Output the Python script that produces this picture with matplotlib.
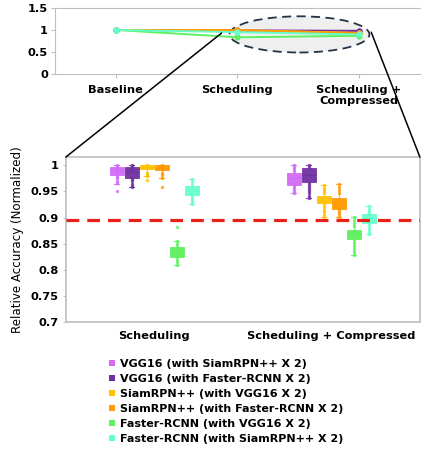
import numpy as np
import matplotlib
matplotlib.use("Agg")
import matplotlib.pyplot as plt
from matplotlib.patches import Ellipse, Patch, ConnectionPatch

plt.rcParams['font.family'] = ['DejaVu Sans']
plt.rcParams['font.weight'] = 'bold'
plt.rcParams['font.size'] = 8.2

# ---- data ----
series = [
    "VGG16 (with SiamRPN++ X 2)",
    "VGG16 (with Faster-RCNN X 2)",
    "SiamRPN++ (with VGG16 X 2)",
    "SiamRPN++ (with Faster-RCNN X 2)",
    "Faster-RCNN (with VGG16 X 2)",
    "Faster-RCNN (with SiamRPN++ X 2)",
]
colors = ["#D36BF5", "#7030A0", "#FFC000", "#FF9900", "#5FF05F", "#66FFCC"]

stages = ["Baseline", "Scheduling", "Scheduling +\nCompressed"]
conditions = ["Scheduling", "Scheduling + Compressed"]

# per condition, per model
median = [[0.990, 0.987, 0.996, 0.995, 0.834, 0.951],
          [0.975, 0.982, 0.934, 0.927, 0.868, 0.898]]
q1 = [[0.981, 0.976, 0.992, 0.990, 0.825, 0.943],
      [0.963, 0.968, 0.927, 0.916, 0.860, 0.890]]
q3 = [[0.997, 0.997, 1.000, 1.000, 0.844, 0.960],
      [0.985, 0.995, 0.941, 0.938, 0.876, 0.906]]
whis_lo = [[0.965, 0.958, 0.980, 0.975, 0.809, 0.925],
           [0.947, 0.938, 0.901, 0.901, 0.828, 0.868]]
whis_hi = [[1.000, 1.000, 1.000, 1.000, 0.855, 0.973],
           [1.000, 1.000, 0.962, 0.964, 0.901, 0.922]]

# individual runs
runs_sched = [
    [1.0, 0.997, 0.990, 0.981, 0.978, 0.975, 0.970, 0.966, 0.951],
    [1.0, 0.998, 0.990, 0.976, 0.973, 0.969, 0.965, 0.961, 0.958],
    [1.0, 0.998, 0.994, 0.986, 0.984, 0.980, 0.971],
    [1.0, 0.998, 0.993, 0.985, 0.982, 0.975, 0.958],
    [0.882, 0.855, 0.850, 0.844, 0.825, 0.820, 0.815, 0.809],
    [0.973, 0.968, 0.963, 0.943, 0.938, 0.933, 0.929, 0.925],
]
runs_comp = [
    [1.0, 0.996, 0.992, 0.988, 0.962, 0.958, 0.955, 0.951, 0.947],
    [1.0, 0.997, 0.966, 0.962, 0.958, 0.954, 0.950, 0.946, 0.942, 0.938],
    [0.962, 0.957, 0.952, 0.947, 0.925, 0.920, 0.915, 0.910, 0.905, 0.901],
    [0.964, 0.958, 0.952, 0.946, 0.914, 0.910, 0.906, 0.901],
    [0.901, 0.895, 0.889, 0.884, 0.858, 0.852, 0.846, 0.840, 0.834, 0.828],
    [0.922, 0.917, 0.912, 0.908, 0.888, 0.883, 0.878, 0.873, 0.868],
]
target = 0.895

frame_gray = "#BFBFBF"

fig = plt.figure(figsize=(4.22, 4.66), dpi=100)

# ---- overview line chart ----
ax_top = fig.add_axes([0.130, 0.841, 0.865, 0.142])
xs = np.arange(len(stages))
for i in range(len(series)):
    vals = [1.0, median[0][i], median[1][i]]
    ax_top.plot(xs, vals, color=colors[i], lw=1.4, marker="o", ms=4.5,
                markeredgewidth=0, zorder=3)
ax_top.set_xlim(-0.5, 2.5)
ax_top.set_ylim(0, 1.5)
ax_top.set_yticks([0, 0.5, 1, 1.5])
ax_top.set_yticklabels(["0", "0.5", "1", "1.5"])
ax_top.set_xticks(xs)
ax_top.set_xticklabels(stages, linespacing=1.05)
ax_top.tick_params(axis="y", length=3, color=frame_gray, pad=2)
ax_top.tick_params(axis="x", length=3, color=frame_gray, pad=5)
ax_top.spines["right"].set_visible(False)
for side in ["left", "bottom", "top"]:
    ax_top.spines[side].set_color(frame_gray)
ax_top.patch.set_alpha(0)

zoom_area = Ellipse((1.51, 0.90), 1.15, 0.82, facecolor="#EFEFEF",
                    edgecolor="#243447", lw=1.3, ls=(0, (5, 3)), zorder=1,
                    clip_on=False)
ax_top.add_patch(zoom_area)

# ---- detailed box plot ----
ax = fig.add_axes([0.156, 0.308, 0.839, 0.355])
step = 0.0847
width = 0.080
for c in range(len(conditions)):
    runs = runs_sched if c == 0 else runs_comp
    for i in range(len(series)):
        pos = c + (i - 2.5) * step
        stats = [dict(med=median[c][i], q1=q1[c][i], q3=q3[c][i],
                      whislo=whis_lo[c][i], whishi=whis_hi[c][i], fliers=[])]
        ax.bxp(stats, positions=[pos], widths=width, patch_artist=True,
               showfliers=False,
               boxprops=dict(facecolor=colors[i], edgecolor=colors[i], lw=0.6, alpha=0.95),
               medianprops=dict(color=colors[i], lw=0.8),
               whiskerprops=dict(color=colors[i], lw=0.9, alpha=0.8),
               capprops=dict(color=colors[i], lw=0.9, alpha=0.8),
               capwidths=width * 0.35, zorder=3)
        ax.scatter(np.full(len(runs[i]), pos), runs[i], s=6, color=colors[i],
                   alpha=0.8, linewidths=0, zorder=4)

ax.axhline(target, color="#E8201C", lw=2.3, ls=(0, (4, 2.5)), zorder=5)
ax.set_xlim(-0.5, 1.5)
ax.set_ylim(0.7, 1.0155)
ax.set_yticks([0.7, 0.75, 0.8, 0.85, 0.9, 0.95, 1.0])
ax.set_yticklabels(["0.7", "0.75", "0.8", "0.85", "0.9", "0.95", "1"])
ax.set_xticks([0, 1])
ax.set_xticklabels(conditions)
ax.tick_params(axis="x", length=0, pad=6)
ax.tick_params(axis="y", length=2, color=frame_gray, pad=3)
for side in ax.spines:
    ax.spines[side].set_color(frame_gray)
    ax.spines[side].set_linewidth(1.2)
ax.set_ylabel("Relative Accuracy (Normalized)", fontsize=8.6, labelpad=5)

# zoom connector lines
for xy_top, xy_bot in [((0.87, 0.93), (0, 1)), ((2.10, 0.95), (1, 1))]:
    con = ConnectionPatch(xyA=xy_top, coordsA=ax_top.transData,
                          xyB=xy_bot, coordsB=ax.transAxes,
                          color="black", lw=1.1, zorder=10)
    fig.add_artist(con)

handles = [Patch(facecolor=col, edgecolor="none") for col in colors]
fig.legend(handles, series, loc="upper left", bbox_to_anchor=(0.258, 0.230),
           frameon=False, handlelength=0.55, handleheight=0.55,
           handletextpad=0.45, labelspacing=0.45, borderpad=0,
           borderaxespad=0, fontsize=8.0)

fig.savefig("out.png", dpi=100)
